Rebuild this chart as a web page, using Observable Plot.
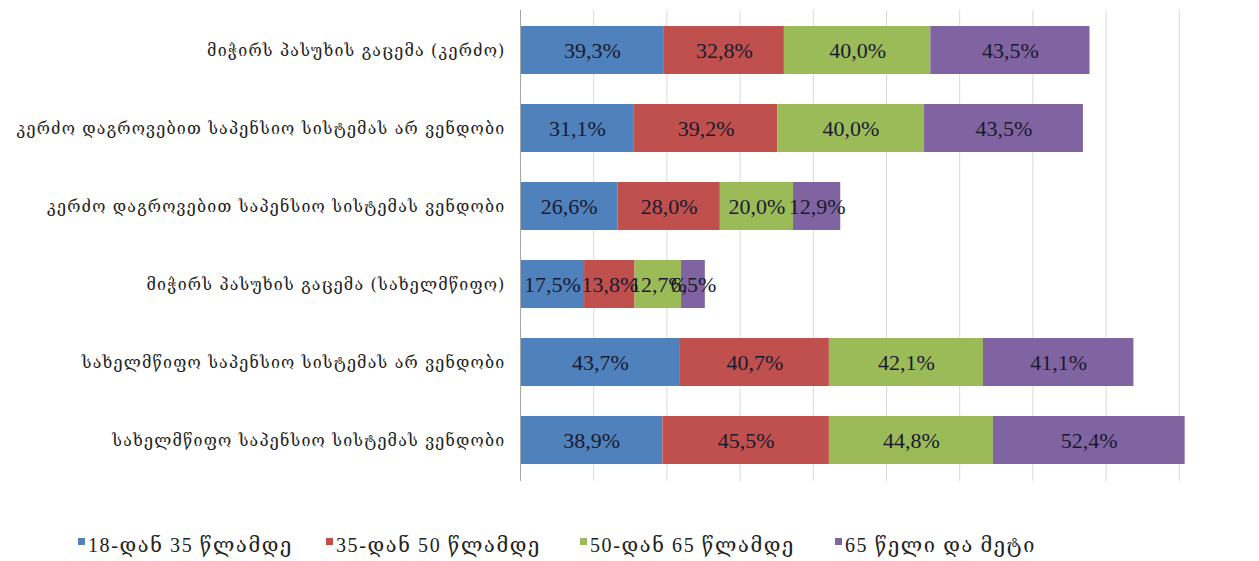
<!DOCTYPE html>
<html>
<head>
<meta charset="utf-8">
<script src="https://cdn.jsdelivr.net/npm/d3@7"></script>
<script src="https://cdn.jsdelivr.net/npm/@observablehq/plot@0.6"></script>
<style>
  body { margin: 0; background: #fff; }
  #chart { width: 1259px; }
  .legend { height: 61px; font-family: "Liberation Serif", "DejaVu Serif", serif; font-size: 20px; letter-spacing: 1.6px; color: #222; }
  .legend .item { position: absolute; display: flex; align-items: center; white-space: nowrap; }
  .legend .sw { width: 7px; height: 7px; margin-right: 3px; margin-top: -8px; }
  .ylab text { letter-spacing: 1.2px; }
</style>
</head>
<body>
<div id="chart"></div>
<script>
const categories = [
  "მიჭირს პასუხის გაცემა (კერძო)",
  "კერძო დაგროვებით საპენსიო სისტემას არ ვენდობი",
  "კერძო დაგროვებით საპენსიო სისტემას ვენდობი",
  "მიჭირს პასუხის გაცემა (სახელმწიფო)",
  "სახელმწიფო საპენსიო სისტემას არ ვენდობი",
  "სახელმწიფო საპენსიო სისტემას ვენდობი"
];
const seriesNames = ["18-დან 35 წლამდე", "35-დან 50 წლამდე", "50-დან 65 წლამდე", "65 წელი და მეტი"];
const age18to35 = [39.3, 31.1, 26.6, 17.5, 43.7, 38.9];
const age35to50 = [32.8, 39.2, 28.0, 13.8, 40.7, 45.5];
const age50to65 = [40.0, 40.0, 20.0, 12.7, 42.1, 44.8];
const age65plus = [43.5, 43.5, 12.9, 6.5, 41.1, 52.4];
const colors = ["#4F81BD", "#C0504D", "#9BBB59", "#8064A2"];
const gridTicks = [0, 20, 40, 60, 80, 100, 120, 140, 160, 180];

const seriesValues = [age18to35, age35to50, age50to65, age65plus];
const data = [];
seriesValues.forEach((vals, si) => {
  vals.forEach((v, ci) => data.push({category: categories[ci], series: seriesNames[si], value: v}));
});
const fmt = v => v.toFixed(1).replace(".", ",") + "%";

const chart = Plot.plot({
  width: 1259,
  height: 500,
  marginLeft: 520,
  marginRight: 7,
  marginTop: 10,
  marginBottom: 19,
  style: {fontFamily: "'Liberation Serif', 'DejaVu Serif', serif", background: "#fff"},
  x: {domain: [0, 200], axis: null},
  y: {domain: categories, paddingInner: 0.38, paddingOuter: 0.19, axis: null, label: null},
  color: {domain: seriesNames, range: colors},
  marks: [
    Plot.ruleX(gridTicks.slice(1), {stroke: "#d9d9d9", strokeWidth: 1}),
    Plot.barX(data, {y: "category", x: "value", fill: "series", order: seriesNames}),
    Plot.text(data, Plot.stackX({y: "category", x: "value", z: "series", order: seriesNames, text: d => fmt(d.value), fill: "#1a1a2e", fontSize: 22})),
    Plot.ruleX([0], {stroke: "#a6a6a6", strokeWidth: 1}),
    Plot.axisY({domain: categories, tickSize: 0, tickPadding: 15, fontSize: 16, fill: "#222", label: null, fontFamily: "'DejaVu Serif', serif", className: "ylab"})
  ]
});
d3.select(chart).selectAll("g[aria-label='y-axis tick label']").classed("ylab", true).attr("letter-spacing", "1.2px");
document.getElementById("chart").appendChild(chart);

const legend = document.createElement("div");
legend.className = "legend";
legend.style.position = "relative";
const xs = [78, 326, 580, 835];
seriesNames.forEach((name, i) => {
  const item = document.createElement("div");
  item.className = "item";
  item.style.left = xs[i] + "px";
  item.style.top = "45px";
  item.style.transform = "translateY(-50%)";
  const sw = document.createElement("span");
  sw.className = "sw";
  sw.style.background = colors[i];
  const t = document.createElement("span");
  t.textContent = name;
  item.appendChild(sw);
  item.appendChild(t);
  legend.appendChild(item);
});
document.getElementById("chart").appendChild(legend);
</script>
</body>
</html>
